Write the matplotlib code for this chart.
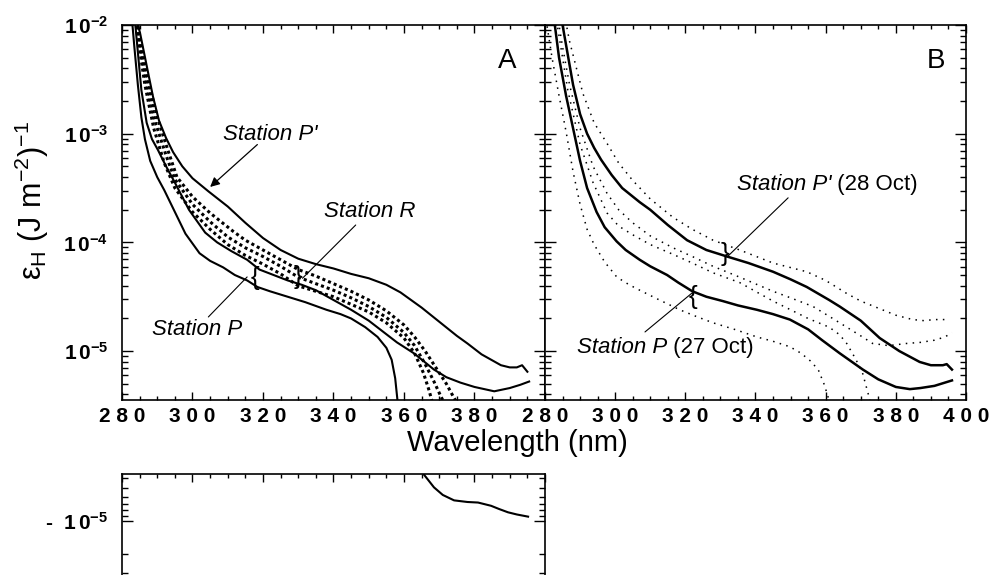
import numpy as np
import matplotlib
matplotlib.use("Agg")
import matplotlib.pyplot as plt
from matplotlib.ticker import MultipleLocator, LogLocator, NullFormatter

plt.rcParams['font.family'] = ['Liberation Sans', 'DejaVu Sans']
plt.rcParams['mathtext.fontset'] = 'custom'
plt.rcParams['mathtext.rm'] = 'Liberation Sans'
plt.rcParams['mathtext.it'] = 'Liberation Sans:italic'
plt.rcParams['mathtext.bf'] = 'Liberation Sans:bold'

# ---- values: wavelength (nm) and log10(eps_H) ----
# panel A
a_pprime_wl = [283.8, 284.5, 285.1, 287.1, 288.8, 290.5, 292.5, 294.5, 297.1, 300, 304.5, 310, 315, 320, 325, 330,
               335, 340, 345, 350, 355, 359, 365, 370, 375, 378, 382, 387.5, 390, 392, 393.5, 395]
a_pprime_log = [-1.9, -2.0, -2.07, -2.39, -2.66, -2.88, -3.04, -3.17, -3.30, -3.41, -3.53, -3.67, -3.82, -3.96,
                -4.07, -4.15, -4.20, -4.24, -4.29, -4.33, -4.39, -4.46, -4.60, -4.73, -4.86, -4.93, -5.03, -5.13,
                -5.15, -5.15, -5.13, -5.19]

a_p1_wl = [282.7, 283.5, 284.5, 285.5, 286.5, 288, 290, 292, 295, 298, 302, 305, 308.7, 312, 315.5, 318.4, 322,
           327, 332, 338, 342, 345, 349, 352.5, 355, 356.5, 357.5, 358.3]
a_p1_log = [-1.9, -2.2, -2.55, -2.85, -3.05, -3.25, -3.40, -3.52, -3.72, -3.92, -4.10, -4.17, -4.23, -4.30, -4.35,
            -4.41, -4.45, -4.50, -4.55, -4.62, -4.66, -4.70, -4.78, -4.87, -4.97, -5.08, -5.25, -5.5]

a_p2_wl = [283.5, 284.5, 285.5, 287, 288.5, 290.2, 292.5, 295, 299, 303.6, 307, 311, 315.5, 319, 323, 327, 331,
           335, 340, 345, 350, 354, 358, 362.8, 368.5, 372, 376, 380, 385.6, 390, 393, 395.5]
a_p2_log = [-1.9, -2.25, -2.6, -2.9, -3.05, -3.15, -3.30, -3.45, -3.70, -3.91, -4.00, -4.08, -4.16, -4.25, -4.30,
            -4.35, -4.39, -4.44, -4.53, -4.62, -4.72, -4.82, -4.92, -5.02, -5.17, -5.24, -5.29, -5.33, -5.37,
            -5.34, -5.31, -5.28]

a_r1_wl = [284, 285, 287, 290, 293, 295.6, 300, 305, 311.6, 315, 320, 325, 330, 335, 340, 345, 350, 355, 360, 363,
           366, 369, 372, 374, 375.5]
a_r1_log = [-1.9, -2.1, -2.45, -2.85, -3.15, -3.40, -3.58, -3.73, -3.90, -3.98, -4.07, -4.16, -4.25, -4.31, -4.38,
            -4.45, -4.53, -4.63, -4.76, -4.87, -5.0, -5.15, -5.3, -5.42, -5.5]

a_r2_wl = [283.8, 284.8, 286.8, 289.5, 292.5, 295, 300, 305, 310, 315, 320, 325, 330, 335, 340, 345, 350, 355,
           360, 363, 366, 368.5, 370.5, 371.8]
a_r2_log = [-1.9, -2.12, -2.5, -2.9, -3.2, -3.42, -3.65, -3.81, -3.95, -4.05, -4.13, -4.22, -4.32, -4.38, -4.44,
            -4.51, -4.59, -4.69, -4.83, -4.95, -5.12, -5.28, -5.42, -5.5]

a_r3_wl = [283.6, 284.6, 286.5, 289, 292, 295, 300, 305, 310, 315, 320, 325, 330, 335, 340, 345, 350, 355, 360,
           363, 365.5, 367, 368.3]
a_r3_log = [-1.9, -2.14, -2.55, -2.95, -3.27, -3.5, -3.72, -3.88, -4.02, -4.12, -4.20, -4.29, -4.40, -4.45, -4.50,
            -4.57, -4.64, -4.74, -4.88, -5.02, -5.2, -5.35, -5.5]

# panel B
b_pprime_wl = [284.3, 285, 288, 290, 292, 294, 296, 299, 302, 307, 310, 315, 320.5, 326, 331.9, 338, 345, 350,
               354.6, 361, 364, 370, 375.4, 381, 386.8, 390, 393.4, 394.5, 396]
b_pprime_log = [-1.9, -2.0, -2.55, -2.82, -3.0, -3.13, -3.24, -3.38, -3.50, -3.63, -3.70, -3.84, -3.98, -4.07,
                -4.13, -4.19, -4.27, -4.34, -4.41, -4.53, -4.59, -4.72, -4.88, -5.00, -5.10, -5.13, -5.13, -5.12,
                -5.17]

b_p_wl = [282.3, 282.8, 284, 286, 288, 290, 292, 294.7, 297, 300.4, 303, 307, 310, 314.8, 318, 322, 326, 330.7,
          335, 340.4, 345, 349.8, 355, 359, 364, 370.6, 375, 380, 384, 387, 391, 394, 396]
b_p_log = [-1.9, -2.0, -2.3, -2.65, -2.95, -3.25, -3.5, -3.72, -3.86, -3.99, -4.07, -4.16, -4.22, -4.30, -4.37,
           -4.45, -4.50, -4.54, -4.58, -4.62, -4.66, -4.71, -4.80, -4.90, -5.02, -5.17, -5.26, -5.33, -5.35, -5.34,
           -5.32, -5.29, -5.27]

b_d1_wl = [285.5, 287, 290.8, 294, 297.7, 301, 305, 310, 316.5, 322, 327.9, 335.5, 345, 354.6, 360, 366, 370,
           375.4, 380, 384.8, 388, 391, 394.8]
b_d1_log = [-1.9, -2.15, -2.63, -2.9, -3.09, -3.27, -3.43, -3.6, -3.77, -3.88, -3.98, -4.07, -4.19, -4.27, -4.35,
            -4.47, -4.54, -4.61, -4.67, -4.71, -4.72, -4.71, -4.71]

b_d2_wl = [283.5, 285, 287, 290, 293.7, 297.7, 301, 305, 310, 316.5, 322, 327.9, 335.5, 345, 350, 356.4, 361, 366,
           370, 373.4, 378, 383, 387, 391, 394, 396]
b_d2_log = [-1.9, -2.2, -2.55, -2.95, -3.3, -3.55, -3.7, -3.82, -3.94, -4.05, -4.13, -4.22, -4.32, -4.45, -4.51,
            -4.59, -4.68, -4.78, -4.86, -4.93, -4.95, -4.93, -4.92, -4.9, -4.87, -4.83]

b_d3_wl = [283, 284.5, 286.5, 290, 293.7, 297.7, 301, 305, 310, 316.5, 322, 327.9, 335.5, 345, 350, 355, 361, 364,
           366, 368.5, 370.5, 372.6]
b_d3_log = [-1.9, -2.2, -2.6, -3.1, -3.45, -3.73, -3.85, -3.93, -4.02, -4.11, -4.19, -4.28, -4.37, -4.54, -4.62,
            -4.70, -4.78, -4.85, -4.93, -5.07, -5.2, -5.45]

b_d4_wl = [280.3, 282, 284, 286, 288, 290, 292, 294, 297, 300.5, 304, 307, 312, 318.4, 323, 327.9, 334, 340.4,
           345, 349.8, 353, 356, 358, 359.5, 360.5, 361.3]
b_d4_log = [-1.95, -2.3, -2.65, -2.98, -3.35, -3.65, -3.88, -4.02, -4.18, -4.32, -4.39, -4.44, -4.52, -4.62,
            -4.68, -4.74, -4.80, -4.87, -4.91, -4.96, -5.02, -5.1, -5.18, -5.3, -5.4, -5.5]

# lower panel: negative values, log10 of magnitude
c_wl = [365.6, 368.5, 371, 374.2, 378, 381, 384.7, 387, 389.5, 392, 395.2]
c_log = [-5.43, -5.31, -5.24, -5.19, -5.175, -5.17, -5.14, -5.11, -5.08, -5.06, -5.04]

xticks_a = [280, 300, 320, 340, 360, 380]
xticks_b = [280, 300, 320, 340, 360, 380, 400]
yticks = [1e-5, 1e-4, 1e-3, 1e-2]
ytick_labels = [r'$\mathbf{1\,0^{-5}}$', r'$\mathbf{1\,0^{-4}}$', r'$\mathbf{1\,0^{-3}}$', r'$\mathbf{1\,0^{-2}}$']


def spaced(v):
    return ' '.join(str(v))


W, H = 995, 575
fig = plt.figure(figsize=(W / 100, H / 100), dpi=100)


def box(x0, y0, x1, y1):
    return [x0 / W, 1 - y1 / H, (x1 - x0) / W, (y1 - y0) / H]


def style(ax):
    ax.set_yscale('log')
    ax.set_xlim(280, 400)
    ax.xaxis.set_major_locator(MultipleLocator(20))
    ax.xaxis.set_minor_locator(MultipleLocator(5))
    ax.yaxis.set_minor_locator(LogLocator(base=10, subs=np.arange(2, 10), numticks=20))
    ax.yaxis.set_minor_formatter(NullFormatter())
    ax.tick_params(which='both', direction='in', top=True, right=True, width=1.0, colors='k')
    ax.tick_params(axis='x', which='major', length=6, pad=5, labelsize=15)
    ax.tick_params(axis='x', which='minor', length=3)
    ax.tick_params(axis='y', which='major', length=8, pad=10, labelsize=15)
    ax.tick_params(axis='y', which='minor', length=4.5)
    for s in ax.spines.values():
        s.set_linewidth(1.2)


def ev(v):
    return 10 ** np.array(v)


axA = fig.add_axes(box(122, 25, 545, 400))
axB = fig.add_axes(box(545, 25, 966, 400))
axC = fig.add_axes(box(122, 474, 545, 700))

ann = dict(fontsize=16)
brace = dict(fontsize=19, ha='center', va='center')
line_kw = dict(arrowstyle='-', lw=0.8, color='k', shrinkA=0, shrinkB=0)

# ---- panel A ----
style(axA)
axA.set_ylim(10 ** -5.45, 1e-2)
axA.plot(a_pprime_wl, ev(a_pprime_log), color='k', lw=1.5)
axA.plot(a_p1_wl, ev(a_p1_log), color='k', lw=1.5)
axA.plot(a_p2_wl, ev(a_p2_log), color='k', lw=1.5)
for wl, lg in [(a_r1_wl, a_r1_log), (a_r2_wl, a_r2_log), (a_r3_wl, a_r3_log)]:
    axA.plot(wl, ev(lg), color='k', lw=2.2, linestyle=(0, (1, 1)))
axA.set_xticks(xticks_a, labels=[spaced(v) for v in xticks_a], fontweight='bold')
axA.set_yticks(yticks, labels=ytick_labels)
axA.text(0.91, 0.905, 'A', transform=axA.transAxes, fontsize=20, ha='center', va='center')

axA.text(308.7, 10 ** -3.058, "Station P'", style='italic', ha='left', va='baseline', **ann)
axA.annotate('', xy=(305.0, 10 ** -3.49), xytext=(318.4, 10 ** -3.10),
             arrowprops=dict(arrowstyle='-|>', lw=0.9, color='k', mutation_scale=14, shrinkA=0, shrinkB=0))
axA.text(337.2, 10 ** -3.766, 'Station R', style='italic', ha='left', va='baseline', **ann)
axA.annotate('', xy=(331.2, 10 ** -4.33), xytext=(346.3, 10 ** -3.84), arrowprops=line_kw)
axA.text(329.8, 10 ** -4.314, '}', **brace)
axA.text(288.5, 10 ** -4.85, 'Station P', style='italic', ha='left', va='baseline', **ann)
axA.annotate('', xy=(315.5, 10 ** -4.318), xytext=(304.5, 10 ** -4.686), arrowprops=line_kw)
axA.text(317.8, 10 ** -4.332, '{', **brace)

# ---- panel B ----
style(axB)
axB.set_ylim(10 ** -5.45, 1e-2)
axB.plot(b_pprime_wl, ev(b_pprime_log), color='k', lw=1.8)
axB.plot(b_p_wl, ev(b_p_log), color='k', lw=1.8)
for wl, lg in [(b_d1_wl, b_d1_log), (b_d2_wl, b_d2_log), (b_d3_wl, b_d3_log), (b_d4_wl, b_d4_log)]:
    axB.plot(wl, ev(lg), color='k', lw=1.1, linestyle=(0, (1, 3.5)))
axB.set_xticks(xticks_b, labels=[spaced(v) for v in xticks_b], fontweight='bold')
axB.set_yticks(yticks, labels=[])
axB.text(0.929, 0.905, 'B', transform=axB.transAxes, fontsize=20, ha='center', va='center')

t1 = axB.text(334.7, 10 ** -3.518, "Station P'", style='italic', ha='left', va='baseline', **ann)
axB.annotate(' (28 Oct)', xy=(1, 0), xycoords=t1, ha='left', va='bottom', **ann)
axB.annotate('', xy=(331.9, 10 ** -4.134), xytext=(349.3, 10 ** -3.59), arrowprops=line_kw)
axB.text(331.3, 10 ** -4.111, '}', **brace)
t2 = axB.text(289.1, 10 ** -5.017, 'Station P', style='italic', ha='left', va='baseline', **ann)
axB.annotate(' (27 Oct)', xy=(1, 0), xycoords=t2, ha='left', va='bottom', **ann)
axB.annotate('', xy=(321.9, 10 ** -4.466), xytext=(308.5, 10 ** -4.824), arrowprops=line_kw)
axB.text(322.2, 10 ** -4.498, '{', **brace)

# ---- lower panel (negative values, magnitude increasing downward) ----
style(axC)
axC.set_ylim(10 ** -3.35, 10 ** -5.433)
axC.plot(c_wl, ev(c_log), color='k', lw=1.5)
axC.set_xticks(xticks_b, labels=[])
axC.set_yticks([1e-5], labels=['-  ' + r'$\mathbf{1\,0^{-5}}$'], fontweight='bold')
axC.tick_params(axis='x', which='both', labelbottom=False)

fig.text(517 / W, 1 - 451 / H, 'Wavelength (nm)', fontsize=21, ha='center', va='baseline')
fig.text(32 / W, 1 - 200 / H, 'ε$_{\\mathrm{H}}$ (J m$^{-2}$)$^{-1}$', fontsize=22, rotation=90,
         ha='center', va='center')

fig.savefig('out.png', dpi=100)
